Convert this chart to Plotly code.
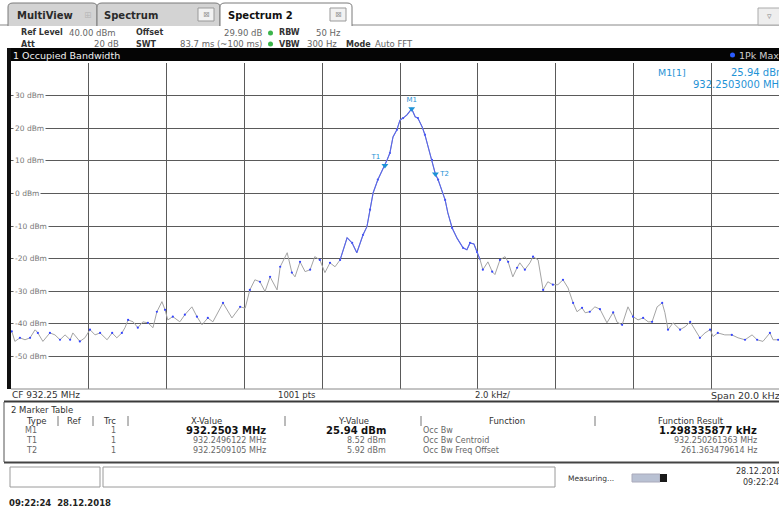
import plotly.graph_objects as go

W, H = 779, 511
CENTER_MHZ = 932.25

# ---------------- data (frequency offset from CF in kHz, level in dBm) ----------------
freq_khz = [
    -9.98, -9.90, -9.77, -9.64, -9.51, -9.38, -9.31, -9.18, -9.00, -8.87, -8.74, -8.61, -8.48, -8.41,
    -8.23, -8.10, -7.97, -7.84, -7.71, -7.53, -7.40, -7.28, -7.15, -7.07, -6.99, -6.86, -6.74, -6.61,
    -6.48, -6.35, -6.25, -6.12, -6.04, -5.97, -5.84, -5.66, -5.53, -5.35, -5.22, -5.09, -4.94, -4.81,
    -4.55, -4.32, -4.11, -3.98, -3.86, -3.73, -3.60, -3.47, -3.34, -3.16, -3.08, -2.90, -2.78, -2.70,
    -2.57, -2.44, -2.31, -2.19, -2.06, -1.93, -1.80, -1.67, -1.54,
    -1.36, -1.23, -1.11, -0.95, -0.85, -0.77, -0.69, -0.57, -0.44, -0.39, -0.33, -0.26, -0.18, -0.08,
    0.00, 0.08, 0.18, 0.30, 0.39, 0.46, 0.57, 0.64, 0.72, 0.82, 0.91, 0.98, 1.08, 1.16, 1.23, 1.34,
    1.47, 1.62, 1.72, 1.80, 1.90, 1.98,
    2.06, 2.13, 2.26, 2.37, 2.44, 2.57, 2.70, 2.78, 2.90, 3.01, 3.08, 3.21, 3.34, 3.42, 3.55, 3.68,
    3.80, 3.93, 4.06, 4.19, 4.32, 4.45, 4.55, 4.68, 4.76, 4.88, 5.01, 5.14, 5.32, 5.48, 5.58, 5.71,
    5.86, 5.99, 6.12, 6.25, 6.38, 6.48, 6.61, 6.74, 6.81, 6.89, 7.02, 7.20, 7.33, 7.46, 7.58, 7.71,
    7.84, 7.97, 8.05, 8.17, 8.35, 8.53, 8.69, 8.87, 9.05, 9.18, 9.33, 9.51, 9.59, 9.72,
]
level_dbm = [
    -42.3, -45.4, -44.3, -44.9, -44.3, -41.8, -42.8, -45.4, -42.8, -43.4, -44.9, -43.4, -44.9, -42.8,
    -45.4, -44.3, -41.8, -43.4, -42.8, -44.9, -42.8, -44.3, -42.8, -41.2, -38.8, -39.4, -41.2, -39.4,
    -39.7, -41.2, -36.3, -33.2, -35.7, -38.8, -37.8, -39.4, -37.2, -34.8, -37.8, -40.3, -38.2, -39.4,
    -33.6, -38.2, -34.8, -35.2, -29.6, -26.5, -27.1, -30.1, -25.6, -29.6, -22.5, -18.2, -24.3, -25.6,
    -21.0, -24.0, -23.4, -19.4, -20.4, -24.3, -21.3, -22.5, -20.4,
    -13.6, -15.2, -18.2, -12.7, -10.2, -5.0, 0.2, 4.2, 7.5, 8.52, 10.3, 12.4, 17.3, 19.5,
    22.5, 23.1, 24.1, 25.94, 23.5, 23.1, 20.4, 18.0, 14.3, 10.3, 5.92, 4.2, 1.1, -2.0, -6.0, -10.6,
    -13.8, -16.7, -17.3, -15.2, -15.5, -18.0,
    -20.4, -23.4, -21.0, -24.0, -24.9, -20.4, -19.4, -21.0, -25.6, -22.8, -21.3, -23.4, -21.3, -19.4, -20.4, -29.6,
    -27.1, -28.0, -28.0, -26.5, -29.0, -33.6, -36.3, -35.1, -36.6, -36.3, -34.8, -35.5, -39.7, -36.5, -39.5, -40.3,
    -34.8, -37.8, -38.8, -38.2, -39.4, -39.4, -34.8, -33.6, -36.6, -41.8, -39.7, -41.8, -40.9, -39.4, -41.8, -44.3,
    -42.8, -41.8, -43.9, -42.8, -43.4, -43.4, -44.3, -44.9, -43.4, -44.9, -45.4, -42.8, -44.9, -44.9,
]

y_tick_vals = [30, 20, 10, 0, -10, -20, -30, -40, -50]
y_tick_text = ["30 dBm", "20 dBm", "10 dBm", "0 dBm", "-10 dBm", "-20 dBm", "-30 dBm", "-40 dBm", "-50 dBm"]

marker_names = ["M1", "T1", "T2"]
marker_x_mhz = [932.2503, 932.2496122, 932.2509105]
marker_y_dbm = [25.94, 8.52, 5.92]

table_type = ["M1", "T1", "T2"]
table_trc = ["1", "1", "1"]
table_xval = ["932.2503 MHz", "932.2496122 MHz", "932.2509105 MHz"]
table_yval = ["25.94 dBm", "8.52 dBm", "5.92 dBm"]
table_func = ["Occ Bw", "Occ Bw Centroid", "Occ Bw Freq Offset"]
table_result = ["1.298335877 kHz", "932.250261363 MHz", "261.363479614 Hz"]

# ---------------- style constants ----------------
FONT = "DejaVu Sans"
GRID = "#5a5a5a"
MK_BLUE = "#1f93d6"
BLUE_LO, BLUE_HI = -1.54, 2.06   # span drawn in the highlight colour
DOT_STRIDE = 2                   # every n-th sample shows a blue dot on the grey trace


def px(x):
    return x / W


def py(y):
    return 1 - y / H


shapes = []
annotations = []


def rect(x0, y0, x1, y1, fill=None, line=None, lw=1):
    d = dict(type="rect", xref="paper", yref="paper",
             x0=px(x0), x1=px(x1), y0=py(y1), y1=py(y0), layer="above",
             line=dict(color=line or "rgba(0,0,0,0)", width=lw if line else 0))
    if fill:
        d["fillcolor"] = fill
    shapes.append(d)


def hline(x0, x1, y, color, lw=1):
    shapes.append(dict(type="line", xref="paper", yref="paper", x0=px(x0), x1=px(x1),
                       y0=py(y), y1=py(y), line=dict(color=color, width=lw), layer="above"))


def vline(x, y0, y1, color, lw=1):
    shapes.append(dict(type="line", xref="paper", yref="paper", x0=px(x), x1=px(x),
                       y0=py(y0), y1=py(y1), line=dict(color=color, width=lw), layer="above"))


def text(x, y, s, size=9, color="#555", bold=False, anchor="left", bg=None):
    a = dict(xref="paper", yref="paper", x=px(x), y=py(y), text=(f"<b>{s}</b>" if bold else s),
             showarrow=False, xanchor=anchor, yanchor="middle",
             font=dict(family=FONT, size=size, color=color), borderpad=0)
    if bg:
        a["bgcolor"] = bg
    annotations.append(a)


fig = go.Figure()

# trace (grey), blue sample dots, highlighted centre section
fig.add_trace(go.Scatter(x=freq_khz, y=level_dbm, mode="lines",
                         line=dict(color="#a4a4a4", width=1),
                         hoverinfo="skip", showlegend=False))
fig.add_trace(go.Scatter(x=freq_khz[::DOT_STRIDE], y=level_dbm[::DOT_STRIDE], mode="markers",
                         marker=dict(color="#3444ff", size=2.2),
                         hoverinfo="skip", showlegend=False))
blue_x = [f for f in freq_khz if BLUE_LO <= f <= BLUE_HI]
blue_y = [v for f, v in zip(freq_khz, level_dbm) if BLUE_LO <= f <= BLUE_HI]
fig.add_trace(go.Scatter(x=blue_x, y=blue_y, mode="lines",
                         line=dict(color="#5664ee", width=1.1),
                         hoverinfo="skip", showlegend=False))

# markers
mk_x = [(m - CENTER_MHZ) * 1000 for m in marker_x_mhz]
fig.add_trace(go.Scatter(x=mk_x, y=marker_y_dbm, mode="markers+text",
                         text=marker_names, textposition=["top center", "top left", "middle right"],
                         textfont=dict(family=FONT, size=7, color=MK_BLUE),
                         marker=dict(symbol="triangle-down", size=6, color=MK_BLUE),
                         hoverinfo="skip", showlegend=False))

# y labels inside the plot
for v, t in zip(y_tick_vals, y_tick_text):
    annotations.append(dict(xref="paper", yref="y", x=px(13), y=v, text=t, showarrow=False,
                            xanchor="left", yanchor="middle", bgcolor="white", borderpad=1,
                            font=dict(family=FONT, size=7.5, color="#777")))

# ---------------- tabs ----------------
hline(0, 779, 25, "#888")
for x0, x1, fill in [(8, 97, "#d3d3d3"), (97, 220, "#d3d3d3"), (220, 352, "white")]:
    shapes.append(dict(type="path", xref="paper", yref="paper", layer="above",
                       path=(f"M {px(x0)} {py(26)} L {px(x0)} {py(7)} Q {px(x0)} {py(3)} {px(x0 + 5)} {py(3)} "
                             f"L {px(x1 - 5)} {py(3)} Q {px(x1)} {py(3)} {px(x1)} {py(7)} L {px(x1)} {py(26)}"),
                       fillcolor=fill, line=dict(color="#7a7a7a", width=1)))
hline(221, 351, 25.5, "white", 2)
text(16, 15, "MultiView", 10, "#2a2a2a", True)
text(88, 15, "⊞", 9, "#bbb", anchor="center")
text(103, 15, "Spectrum", 10, "#2a2a2a", True)
text(227, 15, "Spectrum 2", 10, "#111", True)
for bx in (198, 330):
    rect(bx, 8, bx + 16, 21, "#f2f2f2", "#999")
    text(bx + 8, 14.5, "⊠", 8, "#999", anchor="center")
rect(758, 8, 781, 25, "#eeeeee", "#aaa")
text(769, 16.5, "▿", 9, "#888", anchor="center")

# ---------------- setting rows ----------------
text(20, 33, "Ref Level", 8, "#333", True)
text(68, 33, "40.00 dBm", 8.5, "#666")
text(135, 33, "Offset", 8, "#333", True)
text(263, 33, "29.90 dB", 8.5, "#666", anchor="right")
text(278, 33, "RBW", 8, "#333", True)
text(315, 33, "50 Hz", 8.5, "#666")
text(20, 44, "Att", 8, "#333", True)
text(120, 44, "20 dB", 8.5, "#666", anchor="right")
text(135, 44, "SWT", 8, "#333", True)
text(263, 44, "83.7 ms (~100 ms)", 8.5, "#666", anchor="right")
text(278, 44, "VBW", 8, "#333", True)
text(338, 44, "300 Hz", 8.5, "#666", anchor="right")
text(345, 44, "Mode", 8, "#333", True)
text(374, 44, "Auto FFT", 8.5, "#666")
for gy in (33, 44):
    shapes.append(dict(type="circle", xref="paper", yref="paper", layer="above",
                       x0=px(268), x1=px(273), y0=py(gy + 2.5), y1=py(gy - 2.5),
                       fillcolor="#3cb44b", line=dict(width=0)))

# ---------------- header bar ----------------
rect(8, 48, 781, 61, "#050505")
text(12, 55, "1 Occupied Bandwidth", 9.5, "#f0f0f0")
shapes.append(dict(type="circle", xref="paper", yref="paper", layer="above",
                   x0=px(730), x1=px(735), y0=py(57.5), y1=py(52.5),
                   fillcolor="#2a5bff", line=dict(width=0)))
text(738, 55, "1Pk Max", 9.5, "#cfcfcf")
rect(7, 48, 11, 389, "#101010")
hline(11, 779, 389, "#888")

# marker readout
text(657, 73, "M1[1]", 9.5, MK_BLUE)
text(730, 73, "25.94 dBm", 10, MK_BLUE)
text(692, 85, "932.2503000 MHz", 10, MK_BLUE)

# ---------------- below the diagram ----------------
text(11, 395, "CF 932.25 MHz", 9, "#333")
text(297, 395, "1001 pts", 8.5, "#333", anchor="center")
text(492, 395, "2.0 kHz/", 8.5, "#333", anchor="center")
text(710, 395, "Span 20.0 kHz", 9.5, "#333")
hline(4, 779, 401.5, "#3a3a3a", 2)
vline(4, 402, 462, "#555", 1)
text(10, 410, "2 Marker Table", 8.5, "#333")
hline(4, 779, 462.5, "#444", 2)

hdr_y = 421
text(36, hdr_y, "Type", 8.5, "#333", anchor="center")
text(74, hdr_y, "Ref", 8.5, "#333", anchor="center")
text(110, hdr_y, "Trc", 8.5, "#333", anchor="center")
text(207, hdr_y, "X-Value", 8.5, "#333", anchor="center")
text(353, hdr_y, "Y-Value", 8.5, "#333", anchor="center")
text(507, hdr_y, "Function", 8.5, "#333", anchor="center")
text(691, hdr_y, "Function Result", 8.5, "#333", anchor="center")
for sx in (58, 93, 128, 285, 421, 595):
    vline(sx, 416, 426, "#777")

row_y = [430.5, 440.5, 450]
for i, ry in enumerate(row_y):
    bold = i == 0
    vs = 10 if bold else 8
    vc = "#111" if bold else "#666"
    text(31, ry, table_type[i], 8, "#666", anchor="center")
    text(113, ry, table_trc[i], 8, "#666", anchor="center")
    text(267, ry, table_xval[i], vs, vc, bold, anchor="right")
    text(387, ry, table_yval[i], vs, vc, bold, anchor="right")
    text(422, ry, table_func[i], 8, "#666")
    text(758, ry, table_result[i], vs, vc, bold, anchor="right")

# ---------------- status bar ----------------
for x0, x1 in [(10, 100), (103, 555)]:
    shapes.append(dict(type="rect", xref="paper", yref="paper", layer="above",
                       x0=px(x0), x1=px(x1), y0=py(487), y1=py(467),
                       fillcolor="white", line=dict(color="#9a9a9a", width=1)))
text(567, 478, "Measuring...", 7.5, "#333")
rect(632, 474, 660, 482, "#b9c1d3", "#aab")
rect(660, 474, 667, 482, "#1a1a1a")
text(735, 471, "28.12.2018", 8, "#333")
text(742, 482, "09:22:24", 8, "#333")
text(8, 503, "09:22:24  28.12.2018", 8.5, "#222", True)

fig.update_layout(
    width=W, height=H, margin=dict(l=0, r=0, t=0, b=0),
    paper_bgcolor="white", plot_bgcolor="white",
    xaxis=dict(domain=[px(11), 1], range=[-10, -10 + 768 / 38.9], dtick=2, tick0=-10,
               showgrid=True, gridcolor=GRID, gridwidth=1, zeroline=False,
               showticklabels=False, ticks="", showline=False, fixedrange=True),
    yaxis=dict(domain=[py(389), py(63)], range=[-60, 40], dtick=10, tick0=-60,
               showgrid=True, gridcolor=GRID, gridwidth=1, zeroline=False,
               showticklabels=False, ticks="", showline=False, fixedrange=True),
    shapes=shapes, annotations=annotations, showlegend=False,
)

fig.write_html("out.html", config={"displayModeBar": False},
               post_script="document.body.style.margin='0';document.body.style.overflow='hidden';")
